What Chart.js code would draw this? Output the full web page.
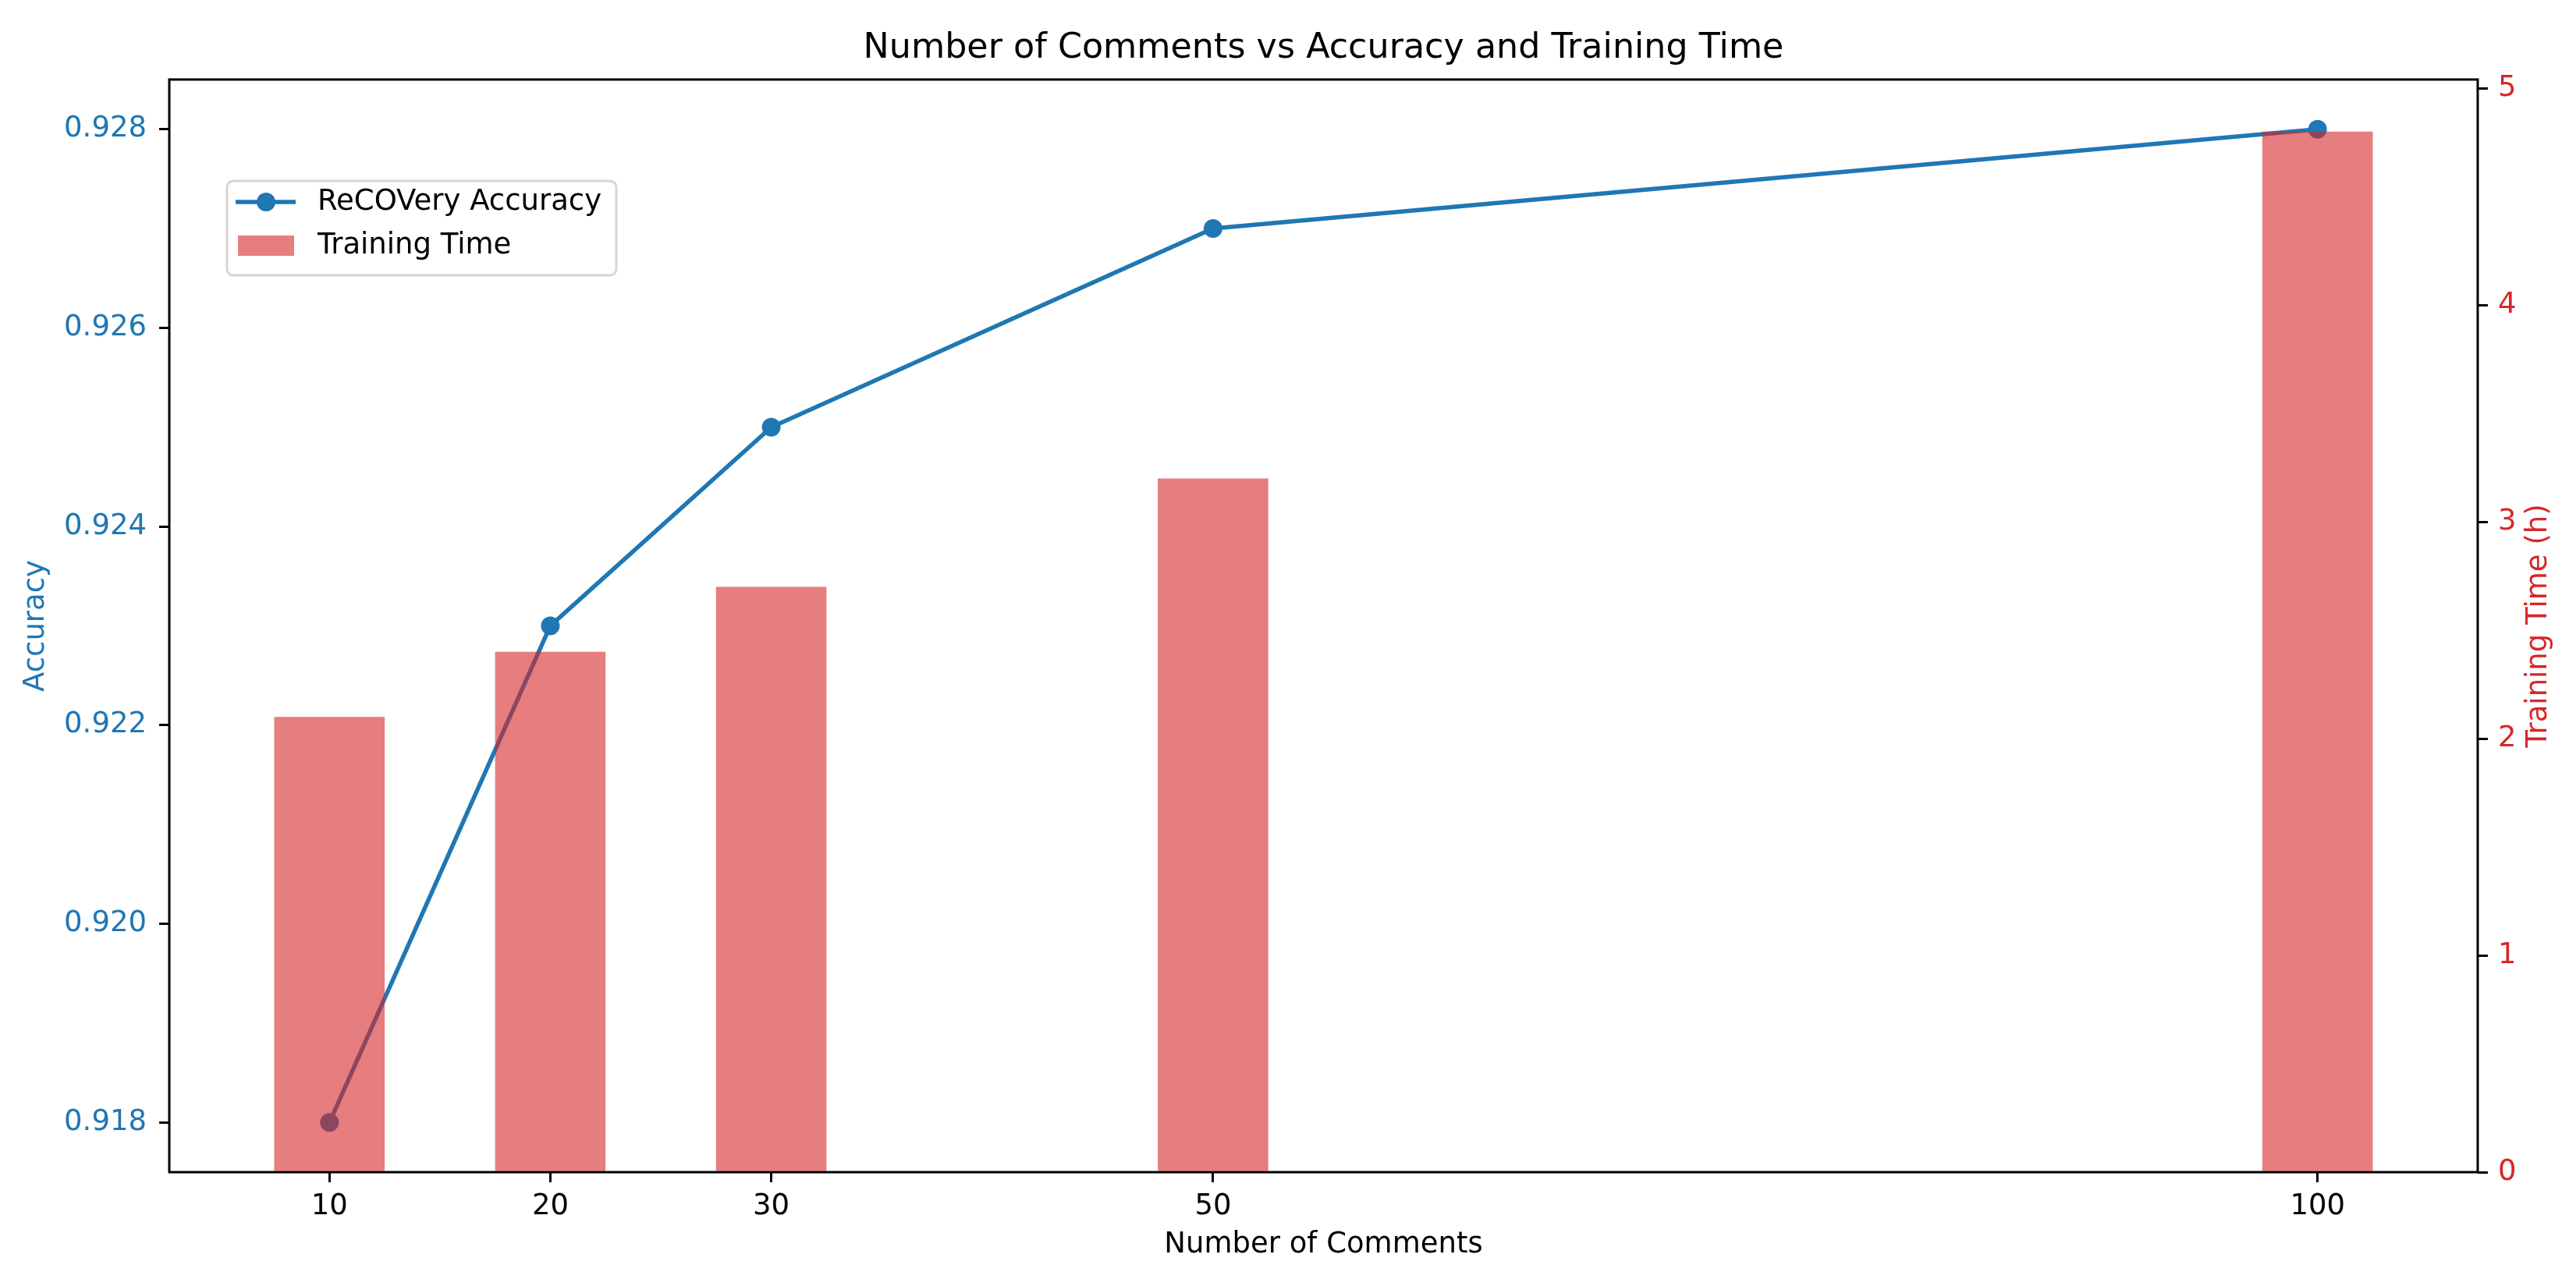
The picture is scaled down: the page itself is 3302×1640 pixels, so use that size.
<!DOCTYPE html>
<html lang="en">
<head>
    <meta charset="UTF-8">
    <title>Number of Comments vs Accuracy and Training Time</title>
    <script src="https://cdn.jsdelivr.net/npm/chart.js"></script>
    <style>
        body {
            margin: 0;
            background: white;
        }
        #chart-container {
            width: 3302px;
            height: 1640px;
        }
    </style>
</head>
<body>
    <div id="chart-container">
        <canvas id="chart" width="3302" height="1640"></canvas>
    </div>

    <script>
        // Datos
        const comments = [10, 20, 30, 50, 100];
        const accuracy = [0.918, 0.923, 0.925, 0.927, 0.928];
        const trainingHours = [2.1, 2.4, 2.7, 3.2, 4.8];

        const commentTicks = [10, 20, 30, 50, 100];
        const accuracyTicks = [0.918, 0.920, 0.922, 0.924, 0.926, 0.928];
        const hourTicks = [0, 1, 2, 3, 4, 5];

        const blue = '#1f77b4';
        const red = '#d62728';
        const barColor = 'rgba(214, 39, 40, 0.6)';
        const fontFamily = '"DejaVu Sans", sans-serif';

        function setTicks(values) {
            return function(scale) {
                scale.ticks = values.map(v => ({ value: v }));
            };
        }

        // Marco completo, titulo del eje derecho y leyenda dentro del area
        const extras = {
            id: 'extras',
            afterDraw(chart) {
                const ctx = chart.ctx;
                const area = chart.chartArea;
                ctx.save();

                ctx.strokeStyle = '#000';
                ctx.lineWidth = 3;
                ctx.strokeRect(area.left, area.top, area.right - area.left, area.bottom - area.top);

                // titulo eje derecho (se lee de abajo hacia arriba)
                ctx.save();
                ctx.translate(3254, (area.top + area.bottom) / 2);
                ctx.rotate(-Math.PI / 2);
                ctx.fillStyle = red;
                ctx.font = '37px ' + fontFamily;
                ctx.textAlign = 'center';
                ctx.textBaseline = 'middle';
                ctx.fillText('Training Time (h)', 0, 0);
                ctx.restore();

                // leyenda
                const x = 291, y = 232, w = 499, h = 121, r = 8;
                ctx.beginPath();
                ctx.roundRect(x, y, w, h, r);
                ctx.fillStyle = 'rgba(255, 255, 255, 0.8)';
                ctx.fill();
                ctx.strokeStyle = 'rgba(204, 204, 204, 0.8)';
                ctx.lineWidth = 3;
                ctx.stroke();

                const lineSet = chart.data.datasets[1];
                const barSet = chart.data.datasets[0];

                ctx.strokeStyle = lineSet.borderColor;
                ctx.lineWidth = lineSet.borderWidth;
                ctx.beginPath();
                ctx.moveTo(302, 259);
                ctx.lineTo(379, 259);
                ctx.stroke();
                ctx.fillStyle = lineSet.pointBackgroundColor;
                ctx.beginPath();
                ctx.arc(341, 259, lineSet.pointRadius, 0, Math.PI * 2);
                ctx.fill();

                ctx.fillStyle = barSet.backgroundColor;
                ctx.fillRect(305, 302, 72, 26);

                ctx.fillStyle = '#000';
                ctx.font = '37px ' + fontFamily;
                ctx.textAlign = 'left';
                ctx.textBaseline = 'middle';
                ctx.fillText(lineSet.label, 407, 259);
                ctx.fillText(barSet.label, 407, 315);

                ctx.restore();
            }
        };

        const ctx = document.getElementById('chart').getContext('2d');
        new Chart(ctx, {
            type: 'bar',
            data: {
                datasets: [{
                    type: 'bar',
                    label: 'Training Time',
                    data: comments.map((c, i) => ({ x: c, y: trainingHours[i] })),
                    backgroundColor: barColor,
                    borderWidth: 0,
                    yAxisID: 'y1',
                    categoryPercentage: 1.0,
                    barPercentage: 0.5,
                    order: 1
                }, {
                    type: 'line',
                    label: 'ReCOVery Accuracy',
                    data: comments.map((c, i) => ({ x: c, y: accuracy[i] })),
                    borderColor: blue,
                    borderWidth: 5.5,
                    pointRadius: 12,
                    pointBorderWidth: 0,
                    pointBackgroundColor: blue,
                    tension: 0,
                    yAxisID: 'y',
                    order: 2
                }]
            },
            options: {
                responsive: false,
                devicePixelRatio: 1,
                animation: false,
                events: [],
                layout: { padding: 0 },
                plugins: {
                    legend: { display: false },
                    tooltip: { enabled: false },
                    title: {
                        display: true,
                        fullSize: false,  // centrado sobre el area del grafico
                        text: 'Number of Comments vs Accuracy and Training Time',
                        color: '#000',
                        font: { family: fontFamily, size: 44.4, weight: 'normal' },
                        padding: { top: 35.4, bottom: 13.3 }
                    }
                },
                scales: {
                    x: {
                        type: 'linear',
                        min: 2.75,
                        max: 107.25,
                        offset: false,
                        afterBuildTicks: setTicks(commentTicks),
                        afterFit(scale) { scale.height = 137; },
                        border: { display: false },
                        grid: { offset: false, drawOnChartArea: false, drawTicks: true, tickLength: 13, lineWidth: 3, color: '#000' },
                        ticks: {
                            color: '#000',
                            padding: 9,
                            maxRotation: 0,
                            autoSkip: false,
                            font: { family: fontFamily, size: 37 }
                        },
                        title: {
                            display: true,
                            text: 'Number of Comments',
                            color: '#000',
                            font: { family: fontFamily, size: 37 },
                            padding: { top: 0, bottom: 21.8 }
                        }
                    },
                    y: {
                        type: 'linear',
                        position: 'left',
                        min: 0.9175,
                        max: 0.9285,
                        afterBuildTicks: setTicks(accuracyTicks),
                        afterFit(scale) { scale.width = 217; },
                        border: { display: false },
                        grid: { drawOnChartArea: false, drawTicks: true, tickLength: 13, lineWidth: 3, color: '#000' },
                        ticks: {
                            color: blue,
                            padding: 16,
                            autoSkip: false,
                            font: { family: fontFamily, size: 37 },
                            callback: v => v.toFixed(3)
                        },
                        title: {
                            display: true,
                            text: 'Accuracy',
                            color: blue,
                            font: { family: fontFamily, size: 37 },
                            padding: { top: 23.8, bottom: 0 }
                        }
                    },
                    y1: {
                        type: 'linear',
                        position: 'right',
                        min: 0,
                        max: 5.04,
                        afterBuildTicks: setTicks(hourTicks),
                        afterFit(scale) { scale.width = 126; },
                        border: { display: false },
                        grid: { drawOnChartArea: false, drawTicks: true, tickLength: 13, lineWidth: 3, color: '#000' },
                        ticks: {
                            color: red,
                            padding: 13,
                            autoSkip: false,
                            font: { family: fontFamily, size: 37 },
                            callback: v => String(v)
                        }
                    }
                }
            },
            plugins: [extras]
        });
    </script>
</body>
</html>
